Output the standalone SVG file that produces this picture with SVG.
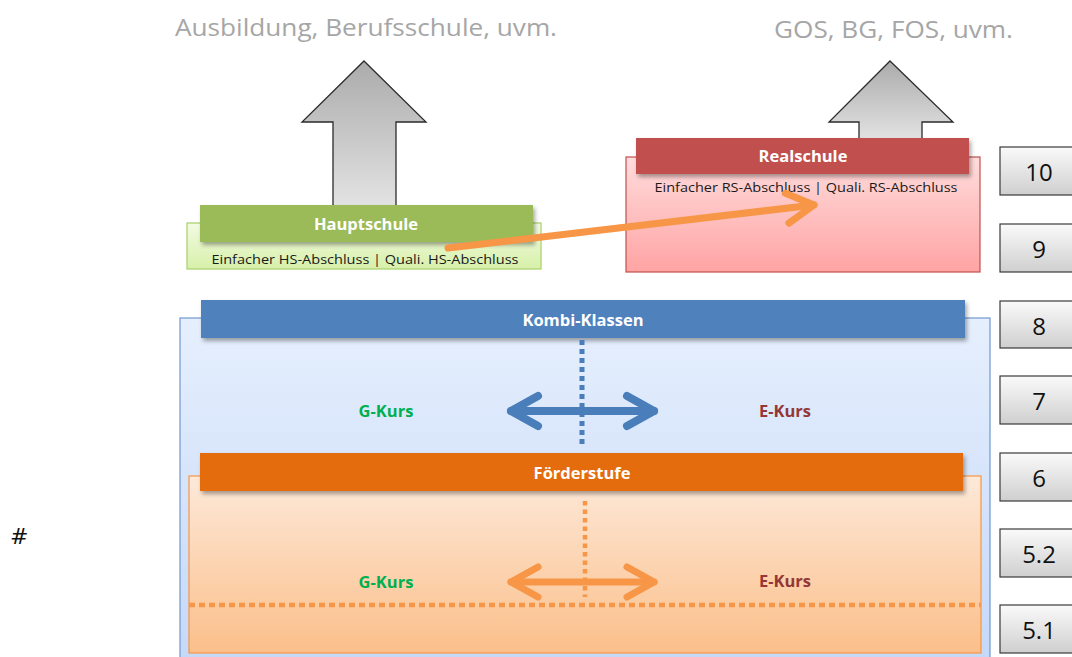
<svg xmlns="http://www.w3.org/2000/svg" width="1072" height="657" viewBox="0 0 1072 657">
  <defs>
    <style>
      .head { font-family: "Open Sans", "Liberation Sans", sans-serif; font-size: 24px; fill: #a6a6a6; }
      .bar-label { font-family: "Open Sans", "Liberation Sans", sans-serif; font-size: 16.5px; font-weight: bold; fill: #ffffff; text-anchor: middle; }
      .sub { font-family: "Open Sans", "Liberation Sans", sans-serif; font-size: 12.5px; fill: #1a1a1a; text-anchor: middle; }
      .g { font-family: "Open Sans", "Liberation Sans", sans-serif; font-size: 16.5px; font-weight: bold; fill: #00b050; text-anchor: middle; }
      .e { font-family: "Open Sans", "Liberation Sans", sans-serif; font-size: 16.5px; font-weight: bold; fill: #953735; text-anchor: middle; }
      .grade rect { fill: url(#gradeFill); stroke: #3a3a3a; stroke-width: 1.2; }
      .grade text { font-family: "Open Sans", "Liberation Sans", sans-serif; font-size: 24px; fill: #111; text-anchor: middle; }
      .bigArrow { fill: url(#arrowFill); stroke: #2b2b2b; stroke-width: 1.3; }
    </style>
    <linearGradient id="arrowFill" x1="0" y1="0" x2="0" y2="1">
      <stop offset="0" stop-color="#ababab"/>
      <stop offset="1" stop-color="#e4e4e4"/>
    </linearGradient>
    <linearGradient id="gradeFill" x1="0" y1="0" x2="0" y2="1">
      <stop offset="0" stop-color="#fafafa"/>
      <stop offset="1" stop-color="#cfcfcf"/>
    </linearGradient>
    <linearGradient id="greenFill" x1="0" y1="0" x2="0" y2="1">
      <stop offset="0" stop-color="#f3fbe3"/>
      <stop offset="1" stop-color="#d7f0a9"/>
    </linearGradient>
    <linearGradient id="redFill" x1="0" y1="0" x2="0" y2="1">
      <stop offset="0" stop-color="#ffdcdc"/>
      <stop offset="1" stop-color="#ffa4a4"/>
    </linearGradient>
    <linearGradient id="blueFill" x1="0" y1="0" x2="0" y2="1">
      <stop offset="0" stop-color="#e6effd"/>
      <stop offset="1" stop-color="#c4d8f8"/>
    </linearGradient>
    <linearGradient id="orangeFill" x1="0" y1="0" x2="0" y2="1">
      <stop offset="0" stop-color="#fde9d9"/>
      <stop offset="1" stop-color="#fbbf8a"/>
    </linearGradient>
    <filter id="shadow" x="-5%" y="-30%" width="110%" height="170%">
      <feDropShadow dx="2" dy="3" stdDeviation="2" flood-color="#000" flood-opacity="0.35"/>
    </filter>
    <marker id="chevBlue" markerUnits="userSpaceOnUse" viewBox="-40 -24 48 48" markerWidth="48" markerHeight="48" refX="0" refY="0" orient="auto-start-reverse" overflow="visible">
      <path d="M-27,-15 L0,0 L-27,15" fill="none" stroke="#4a7ebb" stroke-width="8" stroke-linecap="round" stroke-linejoin="round"/>
    </marker>
    <marker id="chevOrange" markerUnits="userSpaceOnUse" viewBox="-40 -24 48 48" markerWidth="48" markerHeight="48" refX="0" refY="0" orient="auto-start-reverse" overflow="visible">
      <path d="M-27,-15 L0,0 L-27,15" fill="none" stroke="#f79646" stroke-width="7" stroke-linecap="round" stroke-linejoin="round"/>
    </marker>
  </defs>

  <rect width="1072" height="657" fill="#ffffff"/>

  <!-- destinations after leaving school -->
  <text class="head" x="175" y="36" textLength="382" lengthAdjust="spacingAndGlyphs">Ausbildung, Berufsschule, uvm.</text>
  <text class="head" x="774" y="38" textLength="239" lengthAdjust="spacingAndGlyphs">GOS, BG, FOS, uvm.</text>
  <text x="10" y="544" font-family="DejaVu Sans, sans-serif" font-size="22" fill="#111">#</text>

  <!-- big upward arrows -->
  <path class="bigArrow" d="M364,61 L426,122 L396,122 L396,210 L333,210 L333,122 L302,122 Z"/>
  <path class="bigArrow" d="M890,61 L953,122 L922,122 L922,142 L859,142 L859,122 L829,122 Z"/>

  <!-- Kombi-Klassen container -->
  <g id="kombi">
    <rect x="180" y="318" width="810" height="350" fill="url(#blueFill)" stroke="#6f98d0" stroke-width="1.2"/>
    <rect x="201" y="300" width="764" height="38" fill="#4f81bd" filter="url(#shadow)"/>
    <text class="bar-label" x="583" y="326">Kombi-Klassen</text>
    <text class="g" x="386" y="417">G-Kurs</text>
    <text class="e" x="785" y="417">E-Kurs</text>
  </g>

  <!-- Förderstufe container -->
  <g id="foerderstufe">
    <rect x="189" y="476" width="792" height="177" fill="url(#orangeFill)" stroke="#f79646" stroke-width="1.2"/>
    <rect x="200" y="453" width="763" height="38" fill="#e46c0a" filter="url(#shadow)"/>
    <text class="bar-label" x="582" y="479">Förderstufe</text>
    <text class="g" x="386" y="588">G-Kurs</text>
    <text class="e" x="785" y="587">E-Kurs</text>
  </g>

  <!-- Hauptschule -->
  <g id="hauptschule">
    <rect x="187" y="223" width="354" height="46" fill="url(#greenFill)" stroke="#a9cf6a" stroke-width="1.2"/>
    <rect x="200" y="205" width="333" height="37" fill="#9bbb59" filter="url(#shadow)"/>
    <text class="bar-label" x="366" y="230">Hauptschule</text>
    <text class="sub" x="365" y="264" textLength="307" lengthAdjust="spacingAndGlyphs">Einfacher HS-Abschluss | Quali. HS-Abschluss</text>
  </g>

  <!-- Realschule -->
  <g id="realschule">
    <rect x="626" y="157" width="354" height="115" fill="url(#redFill)" stroke="#c0504d" stroke-width="1.2"/>
    <rect x="636" y="138" width="333" height="36" fill="#c0504d" filter="url(#shadow)"/>
    <text class="bar-label" x="803" y="162">Realschule</text>
    <text class="sub" x="806" y="192" textLength="303" lengthAdjust="spacingAndGlyphs">Einfacher RS-Abschluss | Quali. RS-Abschluss</text>
  </g>

  <!-- grade levels -->
  <g id="grades" class="grade">
    <g id="grade-10"><rect x="1000" y="147" width="90" height="48"/><text x="1039" y="181">10</text></g>
    <g id="grade-9"><rect x="1000" y="224" width="90" height="48"/><text x="1039" y="258">9</text></g>
    <g id="grade-8"><rect x="1000" y="301" width="90" height="47"/><text x="1039" y="335">8</text></g>
    <g id="grade-7"><rect x="1000" y="376" width="90" height="48"/><text x="1039" y="410">7</text></g>
    <g id="grade-6"><rect x="1000" y="453" width="90" height="48"/><text x="1039" y="487">6</text></g>
    <g id="grade-5-2"><rect x="1000" y="529" width="90" height="48"/><text x="1039" y="563">5.2</text></g>
    <g id="grade-5-1"><rect x="1000" y="605" width="90" height="48"/><text x="1039" y="639">5.1</text></g>
  </g>

  <!-- connectors -->
  <g id="connectors" fill="none">
    <line x1="582" y1="340" x2="582" y2="446" stroke="#4a7ebb" stroke-width="5" stroke-dasharray="5 4"/>
    <line x1="511" y1="411" x2="654" y2="411" stroke="#4a7ebb" stroke-width="8" stroke-linecap="round" marker-start="url(#chevBlue)" marker-end="url(#chevBlue)"/>
    <line x1="585" y1="501" x2="585" y2="597" stroke="#f79646" stroke-width="4.5" stroke-dasharray="4.5 4"/>
    <line x1="189" y1="605" x2="981" y2="605" stroke="#f79646" stroke-width="4.5" stroke-dasharray="6 4"/>
    <line x1="511" y1="582" x2="654" y2="582" stroke="#f79646" stroke-width="7" stroke-linecap="round" marker-start="url(#chevOrange)" marker-end="url(#chevOrange)"/>
    <line x1="448" y1="248" x2="814" y2="205" stroke="#f79646" stroke-width="7" stroke-linecap="round" marker-end="url(#chevOrange)"/>
  </g>
</svg>
